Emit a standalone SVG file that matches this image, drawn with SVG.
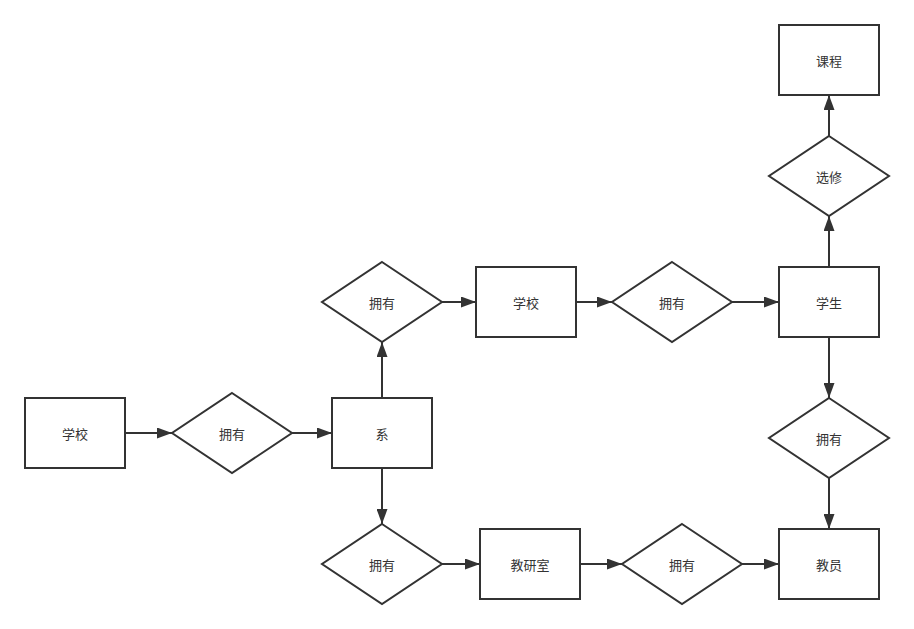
<svg xmlns="http://www.w3.org/2000/svg" width="914" height="629" viewBox="0 0 914 629">
<style>
.n{fill:#fff;stroke:#333;stroke-width:2}
.t{font-family:"Noto Sans CJK SC","Liberation Sans",sans-serif;font-size:13px;fill:#333;text-anchor:middle;dominant-baseline:central}
.e{fill:none;stroke:#333;stroke-width:2}
</style>
<defs>
<marker id="a" markerWidth="15" markerHeight="11" refX="15" refY="5.5" orient="auto" markerUnits="userSpaceOnUse">
<path d="M0,0 L15,5.5 L0,11 Z" fill="#333"/>
</marker>
</defs>
<rect width="914" height="629" fill="#fff"/>
<g id="edges">
<path class="e" d="M125,433 H172" marker-end="url(#a)"/>
<path class="e" d="M292,433 H332" marker-end="url(#a)"/>
<path class="e" d="M382,398 V342" marker-end="url(#a)"/>
<path class="e" d="M382,468 V524" marker-end="url(#a)"/>
<path class="e" d="M442,302 H476" marker-end="url(#a)"/>
<path class="e" d="M576,302 H612" marker-end="url(#a)"/>
<path class="e" d="M732,302 H779" marker-end="url(#a)"/>
<path class="e" d="M829,267 V216" marker-end="url(#a)"/>
<path class="e" d="M829,136 V95" marker-end="url(#a)"/>
<path class="e" d="M829,337 V398" marker-end="url(#a)"/>
<path class="e" d="M829,478 V529" marker-end="url(#a)"/>
<path class="e" d="M442,564 H480" marker-end="url(#a)"/>
<path class="e" d="M580,564 H622" marker-end="url(#a)"/>
<path class="e" d="M742,564 H779" marker-end="url(#a)"/>
</g>
<g id="school1"><rect class="n" x="25" y="398" width="100" height="70"/><text class="t" x="75" y="433">学校</text></g>
<g id="own1"><polygon class="n" points="232,393 292,433 232,473 172,433"/><text class="t" x="232" y="433">拥有</text></g>
<g id="dept"><rect class="n" x="332" y="398" width="100" height="70"/><text class="t" x="382" y="433">系</text></g>
<g id="own2"><polygon class="n" points="382,262 442,302 382,342 322,302"/><text class="t" x="382" y="302">拥有</text></g>
<g id="school2"><rect class="n" x="476" y="267" width="100" height="70"/><text class="t" x="526" y="302">学校</text></g>
<g id="own3"><polygon class="n" points="672,262 732,302 672,342 612,302"/><text class="t" x="672" y="302">拥有</text></g>
<g id="student"><rect class="n" x="779" y="267" width="100" height="70"/><text class="t" x="829" y="302">学生</text></g>
<g id="elect"><polygon class="n" points="829,136 889,176 829,216 769,176"/><text class="t" x="829" y="176">选修</text></g>
<g id="course"><rect class="n" x="779" y="25" width="100" height="70"/><text class="t" x="829" y="60">课程</text></g>
<g id="own4"><polygon class="n" points="829,398 889,438 829,478 769,438"/><text class="t" x="829" y="438">拥有</text></g>
<g id="teacher"><rect class="n" x="779" y="529" width="100" height="70"/><text class="t" x="829" y="564">教员</text></g>
<g id="own5"><polygon class="n" points="382,524 442,564 382,604 322,564"/><text class="t" x="382" y="564">拥有</text></g>
<g id="office"><rect class="n" x="480" y="529" width="100" height="70"/><text class="t" x="530" y="564">教研室</text></g>
<g id="own6"><polygon class="n" points="682,524 742,564 682,604 622,564"/><text class="t" x="682" y="564">拥有</text></g>
</svg>
